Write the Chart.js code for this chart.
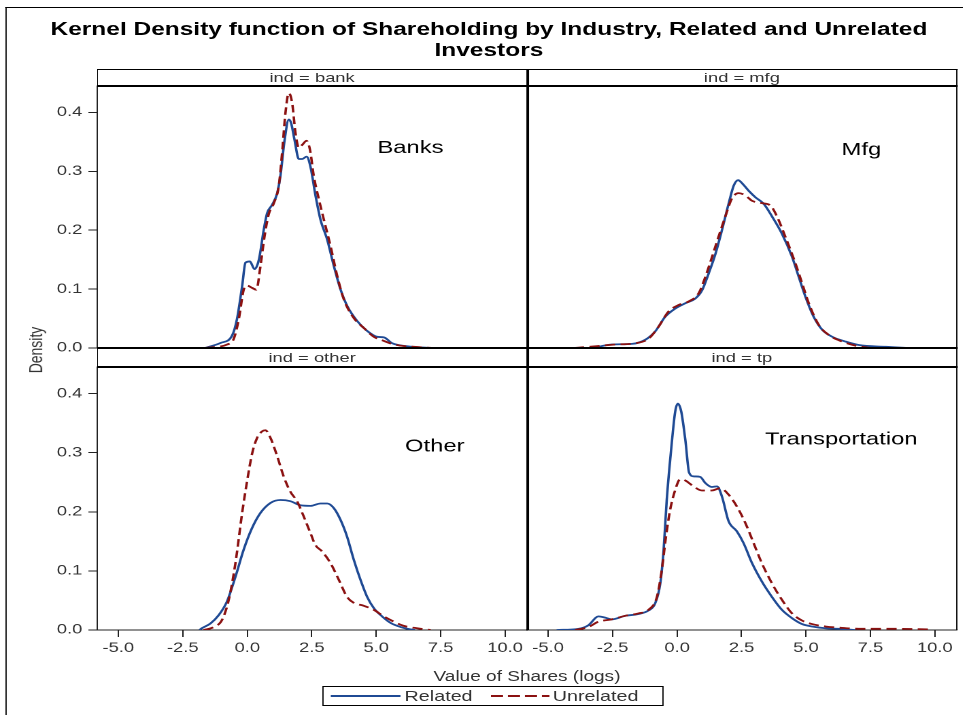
<!DOCTYPE html>
<html><head><meta charset="utf-8">
<script src="https://cdn.jsdelivr.net/npm/chart.js@4"></script>
<style>
html,body{margin:0;padding:0;background:#fff;}
body{width:963px;height:715px;overflow:hidden;position:relative;font-family:"Liberation Sans",Arial,sans-serif;}
/* the reference image is horizontally stretched; draw in a 708px stage and stretch it */
#stage{position:absolute;left:0;top:0;width:708px;height:715px;transform-origin:0 0;transform:scaleX(1.36);}
.abs{position:absolute;}
canvas.pan{position:absolute;left:0;top:0;}
.hl{position:absolute;background:#000;}
.hdr{position:absolute;text-align:center;font-size:13.5px;color:#333;line-height:17px;}
</style></head><body>
<div id="stage">
<div class="abs" style="left:3.5px;top:7px;width:705px;height:708px;border-left:1px solid #000;border-top:1px solid #000;"></div>
<div class="abs" style="left:5.5px;top:19px;width:708px;text-align:center;font-weight:bold;font-size:18px;line-height:21px;color:#000;">Kernel Density function of Shareholding by Industry, Related and Unrelated<br>Investors</div>
<canvas class="pan" id="c1"></canvas>
<canvas class="pan" id="c2"></canvas>
<canvas class="pan" id="c3"></canvas>
<canvas class="pan" id="c4"></canvas>
<div class="hdr" id="h1" style="left:71.5px;top:69px;width:316px;"></div>
<div class="hdr" id="h2" style="left:387.5px;top:69px;width:316px;"></div>
<div class="hdr" id="h3" style="left:71.5px;top:349px;width:316px;"></div>
<div class="hdr" id="h4" style="left:387.5px;top:349px;width:316px;"></div>
<!-- frame lines -->
<div class="hl" style="left:71px;top:69px;width:633px;height:1px;"></div>
<div class="hl" style="left:71px;top:85px;width:633px;height:2px;"></div>
<div class="hl" style="left:71px;top:347px;width:633px;height:2px;"></div>
<div class="hl" style="left:71px;top:366px;width:633px;height:2px;"></div>
<div class="hl" style="left:71px;top:69px;width:1px;height:18px;"></div>
<div class="hl" style="left:71px;top:347px;width:1px;height:21px;"></div>
<div class="hl" style="left:386.5px;top:69px;width:2px;height:561px;"></div>
<div class="hl" style="left:702.5px;top:69px;width:1.8px;height:561px;"></div>
<div class="abs" style="left:25.5px;top:350px;width:0;height:0;">
  <div style="position:absolute;left:-40px;top:-9px;width:80px;text-align:center;transform:rotate(-90deg);font-size:14px;color:#333;line-height:18px;">Density</div>
</div>
<div class="abs" style="left:71.5px;top:667px;width:632px;text-align:center;font-size:14px;color:#333;line-height:18px;">Value of Shares (logs)</div>
<div class="abs" id="legend" style="left:236.5px;top:686px;width:249px;height:18px;border:1px solid #000;font-size:14.5px;color:#333;line-height:18px;">
  <svg class="abs" style="left:5px;top:0" width="52" height="18"><line x1="0" y1="9" x2="51.5" y2="9" stroke="#1F4A94" stroke-width="2"/></svg>
  <span class="abs" id="lg1" style="left:60px;top:0"></span>
  <svg class="abs" style="left:123px;top:0" width="44" height="18"><line x1="0" y1="9" x2="43" y2="9" stroke="#8B1111" stroke-width="2" stroke-dasharray="8.8,3.7"/></svg>
  <span class="abs" id="lg2" style="left:169px;top:0"></span>
</div>
</div>
<script>
// ---- data (x = log value of shares, y = density) ----
const xTickValues = [-5, -2.5, 0, 2.5, 5, 7.5, 10];
const yTickValues = [0, 0.1, 0.2, 0.3, 0.4];
const seriesNames = ["Related", "Unrelated"];
const panelNames = ["Banks", "Mfg", "Other", "Transportation"];
const panelHeaders = ["ind = bank", "ind = mfg", "ind = other", "ind = tp"];

const bankRelated = [[-1.65,0],[-1.56,0.001],[-1.04,0.0085],[-0.59,0.021],[-0.40,0.049],[-0.20,0.105],[-0.07,0.145],[0.10,0.147],[0.28,0.134],[0.45,0.150],[0.64,0.201],[0.77,0.229],[0.96,0.243],[1.16,0.263],[1.29,0.294],[1.44,0.351],[1.61,0.388],[1.70,0.382],[1.83,0.354],[2.00,0.321],[2.13,0.321],[2.30,0.325],[2.45,0.308],[2.65,0.258],[2.84,0.218],[3.10,0.184],[3.36,0.139],[3.62,0.099],[3.88,0.071],[4.26,0.046],[4.65,0.029],[5.04,0.019],[5.30,0.018],[5.62,0.008],[6.21,0.003],[7.11,0]];
const bankUnrelated = [[-1.65,0],[-0.78,0.006],[-0.53,0.015],[-0.33,0.049],[-0.14,0.099],[-0.01,0.106],[0.19,0.102],[0.35,0.099],[0.51,0.139],[0.67,0.190],[0.83,0.227],[1.03,0.246],[1.22,0.275],[1.35,0.331],[1.48,0.399],[1.61,0.433],[1.74,0.416],[1.87,0.365],[2.00,0.340],[2.13,0.345],[2.30,0.352],[2.43,0.337],[2.58,0.292],[2.78,0.252],[2.97,0.218],[3.23,0.173],[3.49,0.122],[3.75,0.082],[4.13,0.051],[4.52,0.034],[4.91,0.019],[5.30,0.012],[5.69,0.006],[6.46,0.002],[7.24,0]];
const mfgRelated = [[-3.2,0],[-3.05,0.002],[-2.53,0.006],[-1.75,0.007],[-1.23,0.014],[-0.85,0.028],[-0.46,0.053],[-0.07,0.067],[0.32,0.076],[0.71,0.084],[0.97,0.098],[1.23,0.127],[1.49,0.160],[1.74,0.200],[2.00,0.245],[2.20,0.276],[2.37,0.285],[2.52,0.280],[2.78,0.267],[3.04,0.256],[3.36,0.245],[3.69,0.223],[4.07,0.194],[4.46,0.155],[4.72,0.121],[4.98,0.087],[5.30,0.053],[5.63,0.031],[6.02,0.019],[6.53,0.011],[7.05,0.005],[8.09,0.002],[9.0,0]];
const mfgUnrelated = [[-4.0,0],[-3.17,0.003],[-2.40,0.006],[-1.62,0.008],[-1.10,0.016],[-0.72,0.036],[-0.33,0.062],[0.06,0.073],[0.45,0.079],[0.84,0.093],[1.10,0.121],[1.36,0.155],[1.61,0.189],[1.87,0.223],[2.13,0.254],[2.39,0.263],[2.65,0.259],[2.91,0.250],[3.30,0.246],[3.62,0.242],[3.88,0.223],[4.20,0.189],[4.59,0.144],[4.85,0.110],[5.11,0.076],[5.50,0.039],[5.89,0.022],[6.40,0.011],[6.92,0.004],[7.5,0]];
const otherRelated = [[-1.85,0],[-1.76,0.003],[-1.43,0.011],[-1.11,0.025],[-0.79,0.048],[-0.46,0.090],[-0.14,0.136],[0.18,0.172],[0.51,0.198],[0.90,0.215],[1.29,0.220],[1.67,0.218],[2.06,0.211],[2.45,0.210],[2.84,0.214],[3.10,0.214],[3.36,0.206],[3.62,0.186],[3.87,0.158],[4.13,0.119],[4.39,0.085],[4.65,0.056],[4.91,0.037],[5.23,0.023],[5.56,0.012],[5.95,0.005],[6.33,0.001],[6.5,0]];
const otherUnrelated = [[-1.69,0],[-1.30,0.005],[-0.98,0.017],[-0.72,0.051],[-0.46,0.113],[-0.20,0.198],[0.0,0.254],[0.19,0.299],[0.38,0.325],[0.57,0.336],[0.70,0.338],[0.90,0.325],[1.16,0.294],[1.41,0.260],[1.67,0.234],[1.93,0.218],[2.19,0.192],[2.45,0.164],[2.64,0.144],[2.90,0.133],[3.23,0.113],[3.55,0.085],[3.87,0.056],[4.13,0.046],[4.52,0.041],[4.91,0.034],[5.30,0.023],[5.69,0.014],[6.07,0.007],[6.59,0.003],[7.11,0]];
const tpRelated = [[-4.67,0],[-3.83,0.002],[-3.44,0.008],[-3.05,0.023],[-2.79,0.021],[-2.53,0.018],[-2.01,0.024],[-1.50,0.027],[-1.11,0.033],[-0.85,0.045],[-0.65,0.079],[-0.52,0.136],[-0.40,0.220],[-0.23,0.305],[-0.07,0.370],[0.03,0.383],[0.16,0.370],[0.32,0.322],[0.47,0.266],[0.64,0.260],[0.90,0.259],[1.09,0.249],[1.35,0.242],[1.55,0.243],[1.74,0.226],[2.00,0.184],[2.32,0.167],[2.58,0.147],[2.91,0.113],[3.29,0.082],[3.68,0.056],[4.07,0.034],[4.46,0.020],[4.85,0.010],[5.24,0.006],[5.75,0.003],[6.27,0.002],[6.92,0]];
const tpUnrelated = [[-3.95,0],[-3.44,0.005],[-3.05,0.014],[-2.53,0.018],[-2.01,0.024],[-1.50,0.028],[-1.11,0.034],[-0.78,0.056],[-0.59,0.102],[-0.43,0.158],[-0.27,0.203],[-0.07,0.237],[0.12,0.255],[0.32,0.253],[0.64,0.243],[0.96,0.236],[1.35,0.236],[1.68,0.240],[2.00,0.229],[2.32,0.209],[2.65,0.181],[2.97,0.147],[3.29,0.113],[3.68,0.079],[4.07,0.051],[4.46,0.028],[4.85,0.016],[5.24,0.010],[5.75,0.006],[6.27,0.004],[7.18,0.002],[8.47,0.002],[9.83,0.001]];

// label anchor in data units (x, y) for each panel's name
const panelLabelAt = [[6.33,0.339],[7.15,0.336],[7.27,0.310],[6.37,0.322]];

// ---- layout / style (stage units; stage is stretched 1.36x horizontally) ----
const X_MIN = -5.82, X_MAX = 10.85, Y_MAX = 0.445;
const W = 708, H = 715;
const BLUE = "#1F4A94", RED = "#8B1111";
const FONT = '"Liberation Sans", Arial, sans-serif';
const areas = [
  {left:71.5, top:86, right:387.5, bottom:348, showY:true, showX:false},
  {left:387.5, top:86, right:703.5, bottom:348, showY:false, showX:false},
  {left:71.5, top:367, right:387.5, bottom:630, showY:true, showX:true},
  {left:387.5, top:367, right:703.5, bottom:630, showY:false, showX:true}
];
const panelData = [[bankRelated,bankUnrelated],[mfgRelated,mfgUnrelated],[otherRelated,otherUnrelated],[tpRelated,tpUnrelated]];
const toPts = arr => arr.map(p => ({x:p[0], y:p[1]}));

panelHeaders.forEach((t,i) => { document.getElementById('h'+(i+1)).textContent = t; });
document.getElementById('lg1').textContent = seriesNames[0];
document.getElementById('lg2').textContent = seriesNames[1];

const labelPlugin = {
  id:'panelLabel',
  afterDatasetsDraw(chart, args, opts){
    const ctx = chart.ctx;
    const xs = chart.scales.x, ys = chart.scales.y;
    ctx.save();
    ctx.font = '17.5px ' + FONT;
    ctx.fillStyle = '#000';
    ctx.textAlign = 'center'; ctx.textBaseline = 'middle';
    ctx.fillText(opts.text, xs.getPixelForValue(opts.at[0]), ys.getPixelForValue(opts.at[1]));
    ctx.restore();
  }
};

areas.forEach((a, i) => {
  const [rel, unrel] = panelData[i];
  const cv = document.getElementById('c' + (i+1));
  cv.style.width = W + 'px'; cv.style.height = H + 'px';
  new Chart(cv, {
    type:'line',
    data:{datasets:[
      {label:seriesNames[0], data:toPts(rel), borderColor:BLUE, borderWidth:1.8, pointRadius:0, cubicInterpolationMode:'monotone', fill:false, order:1},
      {label:seriesNames[1], data:toPts(unrel), borderColor:RED, borderWidth:1.8, borderDash:[7.5,4], pointRadius:0, cubicInterpolationMode:'monotone', fill:false, order:0}
    ]},
    plugins:[labelPlugin],
    options:{
      responsive:false, maintainAspectRatio:false, animation:false, devicePixelRatio:2,
      events:[],
      layout:{padding:{left:a.showY?0:a.left, top:a.top, right:W-a.right, bottom:a.showX?0:H-a.bottom}},
      plugins:{legend:{display:false}, tooltip:{enabled:false}, title:{display:false},
               panelLabel:{text:panelNames[i], at:panelLabelAt[i]}},
      scales:{
        x:{type:'linear', min:X_MIN, max:X_MAX, display:a.showX,
           afterBuildTicks:s => { s.ticks = xTickValues.map(v => ({value:v})); },
           afterFit: a.showX ? (s => { s.height = H - a.bottom; }) : undefined,
           ticks:{callback:v => v.toFixed(1), color:'#333', font:{family:FONT, size:13.5}, padding:3, maxRotation:0, autoSkip:false},
           grid:{drawOnChartArea:false, drawTicks:true, tickLength:7, color:'#222'},
           border:{display:true, color:'#222', width:1}},
        y:{type:'linear', min:0, max:Y_MAX, display:a.showY,
           afterBuildTicks:s => { s.ticks = yTickValues.map(v => ({value:v})); },
           afterFit: a.showY ? (s => { s.width = a.left; }) : undefined,
           ticks:{callback:v => v.toFixed(1), color:'#333', font:{family:FONT, size:13.5}, padding:4.5, autoSkip:false},
           grid:{drawOnChartArea:false, drawTicks:true, tickLength:6.5, color:'#222'},
           border:{display:true, color:'#222', width:1}}
      }
    }
  });
});
</script>
</body></html>
